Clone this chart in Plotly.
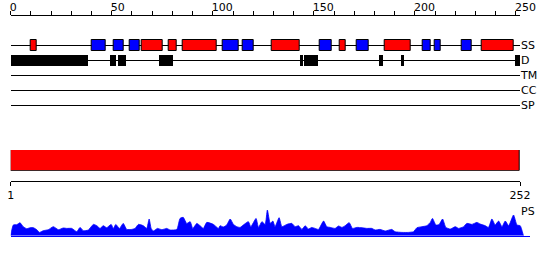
import plotly.graph_objects as go

# ---------------- data ----------------
seq_len = 252
axis_ticks = list(range(0, 251, 10))
axis_labels = [str(v) if v % 50 == 0 else "" for v in axis_ticks]

track_names = ["SS", "D", "TM", "CC", "SP"]

helix_start = [10, 65, 78, 85, 129, 163, 185, 233]
helix_end = [13, 75, 82, 102, 143, 166, 198, 249]
strand_start = [40, 51, 59, 105, 115, 153, 171, 204, 210, 223]
strand_end = [47, 56, 64, 113, 120, 159, 177, 208, 213, 228]

dis_start = [0, 49, 53, 73, 143, 145, 182, 193, 249.5]
dis_end = [38, 52, 57, 80, 144.5, 152, 184, 194.5, 252.3]

domain_start = [1]
domain_end = [252]
domain_ticks = [1, 252]

ps_pos = [0, 1.3, 3, 4.6, 6.2, 7.9, 9.6, 11.2, 12.9, 14.2,
          16.1, 18.6, 21.1, 23.6, 26, 27.7, 30.2, 32.7, 34.3, 35.9,
          38.4, 40.9, 42.6, 44.2, 45.8, 47.5, 49.7, 50.8, 52, 53.8,
          55.7, 57.4, 59.9, 61.5, 63.2, 65.6, 67.3, 68.5, 69.5, 70.6,
          72.6, 74.8, 77.2, 78.9, 82.2, 83.8, 85.4, 87.1, 88.8, 90.1,
          92.1, 93.7, 95.3, 97, 100.3, 102.8, 103.6, 105.2, 106.9, 108.6,
          110.2, 111.9, 113.5, 115.1, 117.6, 118.8, 121.4, 122.6, 124.3, 125.9,
          127, 128.4, 129.7, 130.8, 132.8, 134.2, 136.6, 139.1, 140.7, 142.4,
          144.1, 145.7, 147.3, 149, 150.6, 152.3, 154.8, 156.4, 158.1, 160.5,
          162.2, 163.9, 165.5, 167.5, 169.1, 171.3, 173.8, 176.2, 178.7, 180.3,
          182.8, 185.3, 188.6, 190.2, 193.6, 196.8, 199.3, 201, 203.5, 205.9,
          207.6, 208.7, 210.4, 212, 213.7, 215.3, 217.5, 220, 221.6, 224.1,
          225.7, 228.2, 230.7, 232.3, 234.8, 236.4, 238.1, 239.7, 241.4, 243.1,
          244.7, 246.4, 248.8, 250.5, 252.1, 253.7]
ps_val = [0, 10.7, 11, 13, 9, 7, 8, 8, 6, 3.3,
          5, 6, 9, 6, 7.7, 7.3, 7.3, 4, 8.3, 5,
          5.7, 11.3, 10, 7.3, 10, 8, 11.3, 7.3, 11.3, 7.3,
          12.3, 6.3, 6.3, 7.3, 11.3, 10, 7.3, 16.7, 7.3, 4.7,
          7.3, 6, 7.3, 5.7, 6.3, 17.3, 18.3, 12.3, 14, 7.3,
          12.3, 10, 7.3, 13.3, 11.3, 7.3, 10, 8.7, 10.7, 16.7,
          11.3, 9, 8.3, 10.7, 14, 9, 17.3, 8.3, 14, 11.3,
          25.7, 12.3, 14.7, 9, 18, 9, 11.3, 12.3, 9, 10,
          6.3, 10, 6.7, 8.3, 7.3, 6.3, 14.7, 9, 8.3, 7.3,
          9.7, 8.3, 10, 13, 7.3, 8.3, 8, 7.3, 7.3, 5.7,
          6.3, 4.7, 6.3, 4, 3.3, 3.3, 4, 8, 9, 10,
          13.3, 17.3, 10.7, 11.3, 16.7, 8.3, 6.7, 9, 7.3, 9,
          12.3, 11.3, 13.3, 11.7, 10, 8.3, 16.7, 10.7, 14.7, 9,
          14.7, 10, 20.7, 10.7, 10, 0]

# ---------------- layout helpers ----------------
W, H = 550, 260
x_left, x_right = 10.7, 520.0
ps_right = 530.0


def fy(px):
    return 1 - px / H


font = dict(family="DejaVu Sans", size=11, color="#000000")

fig = go.Figure()

box_w = 0.74
fig.add_trace(go.Bar(
    orientation="h", base=helix_start,
    x=[e - s for s, e in zip(helix_start, helix_end)],
    y=[0] * len(helix_start), width=box_w,
    marker=dict(color="#ff0000", line=dict(color="#000000", width=1)),
    xaxis="x", yaxis="y", hoverinfo="skip", showlegend=False))
fig.add_trace(go.Bar(
    orientation="h", base=strand_start,
    x=[e - s for s, e in zip(strand_start, strand_end)],
    y=[0] * len(strand_start), width=box_w,
    marker=dict(color="#0000ff", line=dict(color="#000000", width=1)),
    xaxis="x", yaxis="y", hoverinfo="skip", showlegend=False))
fig.add_trace(go.Bar(
    orientation="h", base=dis_start,
    x=[e - s for s, e in zip(dis_start, dis_end)],
    y=[1] * len(dis_start), width=box_w,
    marker=dict(color="#000000", line=dict(color="#000000", width=0)),
    xaxis="x", yaxis="y", hoverinfo="skip", showlegend=False))

# domain bar
fig.add_trace(go.Bar(
    orientation="h", base=domain_start,
    x=[e - s for s, e in zip(domain_start, domain_end)],
    y=[0.5], width=1,
    marker=dict(color="#ff0000", line=dict(color="#000000", width=1)),
    xaxis="x2", yaxis="y3", hoverinfo="skip", showlegend=False))

# PS profile
fig.add_trace(go.Scatter(
    x=ps_pos, y=ps_val, mode="lines", fill="tozeroy",
    line=dict(color="#0000ff", width=0.8, shape="spline", smoothing=0.5),
    fillcolor="#0000ff",
    xaxis="x3", yaxis="y2", hoverinfo="skip", showlegend=False))

dom = [x_left / W, x_right / W]
row_top, row_bot = 38, 113

fig.update_layout(
    width=W, height=H,
    margin=dict(l=0, r=0, t=0, b=0, autoexpand=False),
    paper_bgcolor="white", plot_bgcolor="white",
    font=font, barmode="overlay", bargap=0,
    xaxis=dict(domain=dom, range=[0, seq_len], side="top", anchor="free",
               position=fy(15), showline=True, linecolor="#000000", linewidth=1,
               ticks="outside", ticklen=4, tickcolor="#000000", tickwidth=1,
               tickvals=axis_ticks, ticktext=axis_labels,
               ticklabelposition="outside right", ticklabelshift=-2,
               automargin=False,
               showgrid=False, zeroline=False, tickfont=font),
    yaxis=dict(domain=[fy(row_bot), fy(row_top)], range=[4.5, -0.5],
               anchor="x", side="right", tickvals=list(range(5)),
               ticktext=track_names, ticks="", showgrid=True,
               gridcolor="#000000", gridwidth=1, zeroline=False,
               showline=False, tickfont=font, automargin=False),
    xaxis2=dict(domain=dom, range=[domain_ticks[0], domain_ticks[1]],
                anchor="free", position=fy(180.7), side="bottom",
                showline=True, linecolor="#000000", linewidth=1,
                ticks="outside", ticklen=4, tickcolor="#000000",
                tickvals=domain_ticks, ticktext=[str(v) for v in domain_ticks],
                showgrid=False, zeroline=False, tickfont=font, automargin=False),
    yaxis3=dict(domain=[fy(170.7), fy(150)], range=[0, 1], anchor="x2",
                visible=False, showgrid=False, zeroline=False, automargin=False),
    xaxis3=dict(domain=[x_left / W, ps_right / W],
                range=[0, seq_len * (ps_right - x_left) / (x_right - x_left)],
                anchor="y2", showline=True, linecolor="#0000ff", linewidth=1,
                showticklabels=False, ticks="", showgrid=False, zeroline=False,
                automargin=False),
    yaxis2=dict(domain=[fy(235.7), fy(205)], range=[0, 30.7], anchor="x",
                side="right", tickvals=[24.7], ticktext=["PS"], ticks="",
                showgrid=False, zeroline=False, showline=False, tickfont=font,
                automargin=False),
)

fig.write_html("out.html")
